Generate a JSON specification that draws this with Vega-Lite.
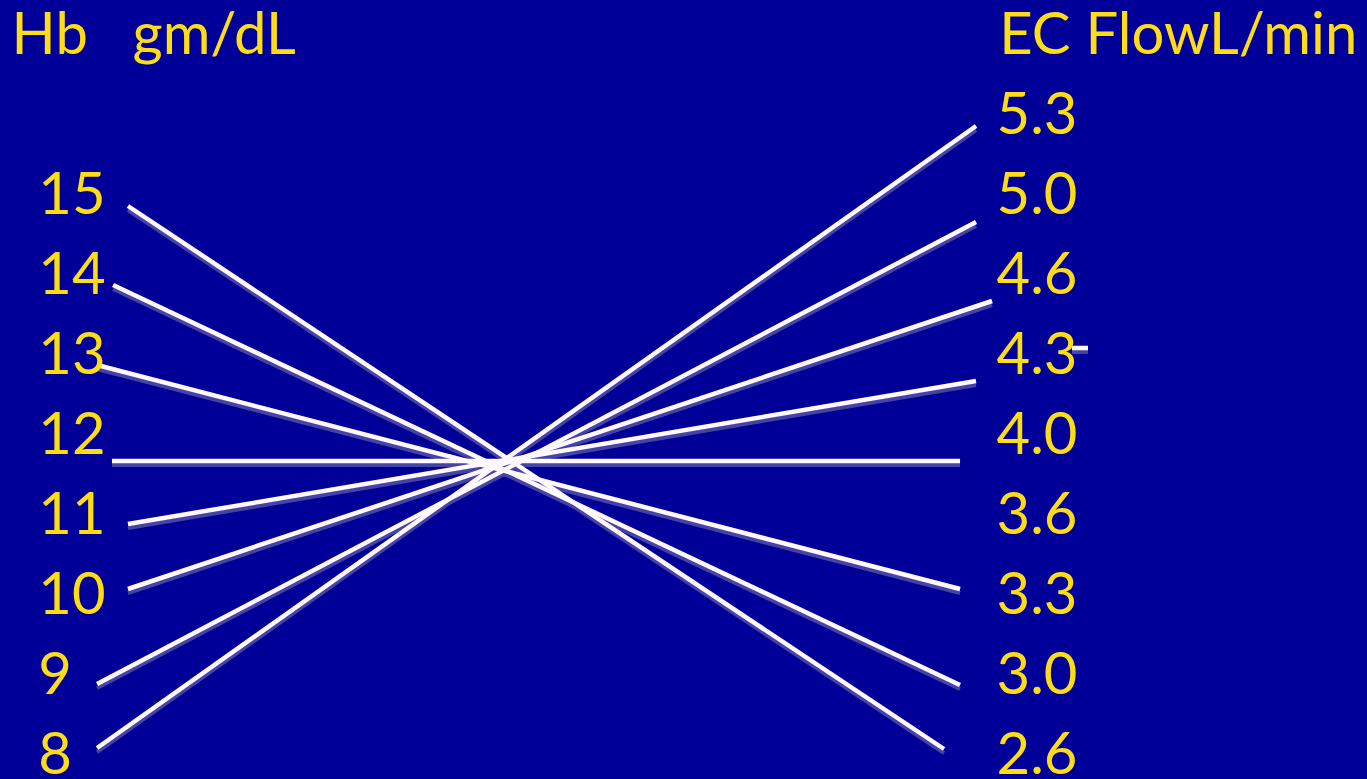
{
  "$schema": "https://vega.github.io/schema/vega-lite/v6.json",
  "width": 1367,
  "height": 779,
  "autosize": {"type": "none"},
  "padding": 0,
  "background": "#000099",
  "config": {
    "view": {"stroke": null},
    "text": {"font": "Lato", "fontSize": 58, "color": "#FFDD15", "align": "left", "baseline": "alphabetic"}
  },
  "datasets": {
    "links": [
      {"hb": "15", "flow": "2.6", "x1": 9.36, "y1": 0.9, "x2": 69.06, "y2": 7.6875},
      {"hb": "14", "flow": "3.0", "x1": 8.27, "y1": 1.8875, "x2": 70.23, "y2": 6.8875},
      {"hb": "13", "flow": "3.3", "x1": 7.1, "y1": 2.8875, "x2": 70.23, "y2": 5.6875},
      {"hb": "12", "flow": "4.0", "x1": 8.19, "y1": 4.0875, "x2": 70.23, "y2": 4.0875},
      {"hb": "11", "flow": "4.3", "x1": 9.36, "y1": 4.875, "x2": 71.4, "y2": 3.0875},
      {"hb": "10", "flow": "4.6", "x1": 9.36, "y1": 5.6875, "x2": 72.57, "y2": 2.0875},
      {"hb": "9", "flow": "5.0", "x1": 7.1, "y1": 6.875, "x2": 71.4, "y2": 1.1},
      {"hb": "8", "flow": "5.3", "x1": 7.1, "y1": 7.675, "x2": 71.4, "y2": -0.1},
      {"hb": "", "flow": "4.3 tick", "x1": 78.42, "y1": 2.675, "x2": 79.59, "y2": 2.675}
    ],
    "labels": [
      {"label": "Hb\u00a0\u00a0\u00a0gm/dL", "x": 0.85, "row": -1},
      {"label": "EC FlowL/min", "x": 73.1, "row": -1},
      {"label": "15", "x": 2.8, "row": 1},
      {"label": "14", "x": 2.8, "row": 2},
      {"label": "13", "x": 2.8, "row": 3},
      {"label": "12", "x": 2.8, "row": 4},
      {"label": "11", "x": 2.8, "row": 5},
      {"label": "10", "x": 2.8, "row": 6},
      {"label": "9", "x": 2.8, "row": 7},
      {"label": "8", "x": 2.8, "row": 8},
      {"label": "5.3", "x": 72.9, "row": 0},
      {"label": "5.0", "x": 72.9, "row": 1},
      {"label": "4.6", "x": 72.9, "row": 2},
      {"label": "4.3", "x": 72.9, "row": 3},
      {"label": "4.0", "x": 72.9, "row": 4},
      {"label": "3.6", "x": 72.9, "row": 5},
      {"label": "3.3", "x": 72.9, "row": 6},
      {"label": "3.0", "x": 72.9, "row": 7},
      {"label": "2.6", "x": 72.9, "row": 8}
    ]
  },
  "layer": [
    {
      "data": {"name": "links"},
      "mark": {"type": "rule", "strokeWidth": 4, "color": "#4444a8", "yOffset": 4, "y2Offset": 4},
      "encoding": {
        "x": {"field": "x1", "type": "quantitative", "scale": {"domain": [0, 100], "nice": false, "zero": false}, "axis": null},
        "y": {"field": "y1", "type": "quantitative", "scale": {"domain": [-1.675, 8.0625], "nice": false, "zero": false, "reverse": true}, "axis": null},
        "x2": {"field": "x2"},
        "y2": {"field": "y2"}
      }
    },
    {
      "data": {"name": "links"},
      "mark": {"type": "rule", "strokeWidth": 4.5, "color": "#FFF8FF"},
      "encoding": {
        "x": {"field": "x1", "type": "quantitative", "scale": {"domain": [0, 100], "nice": false, "zero": false}, "axis": null},
        "y": {"field": "y1", "type": "quantitative", "scale": {"domain": [-1.675, 8.0625], "nice": false, "zero": false, "reverse": true}, "axis": null},
        "x2": {"field": "x2"},
        "y2": {"field": "y2"}
      }
    },
    {
      "data": {"name": "labels"},
      "mark": {"type": "text"},
      "encoding": {
        "x": {"field": "x", "type": "quantitative", "scale": {"domain": [0, 100], "nice": false, "zero": false}, "axis": null},
        "y": {"field": "row", "type": "quantitative", "scale": {"domain": [-1.675, 8.0625], "nice": false, "zero": false, "reverse": true}, "axis": null},
        "text": {"field": "label"}
      }
    }
  ]
}
